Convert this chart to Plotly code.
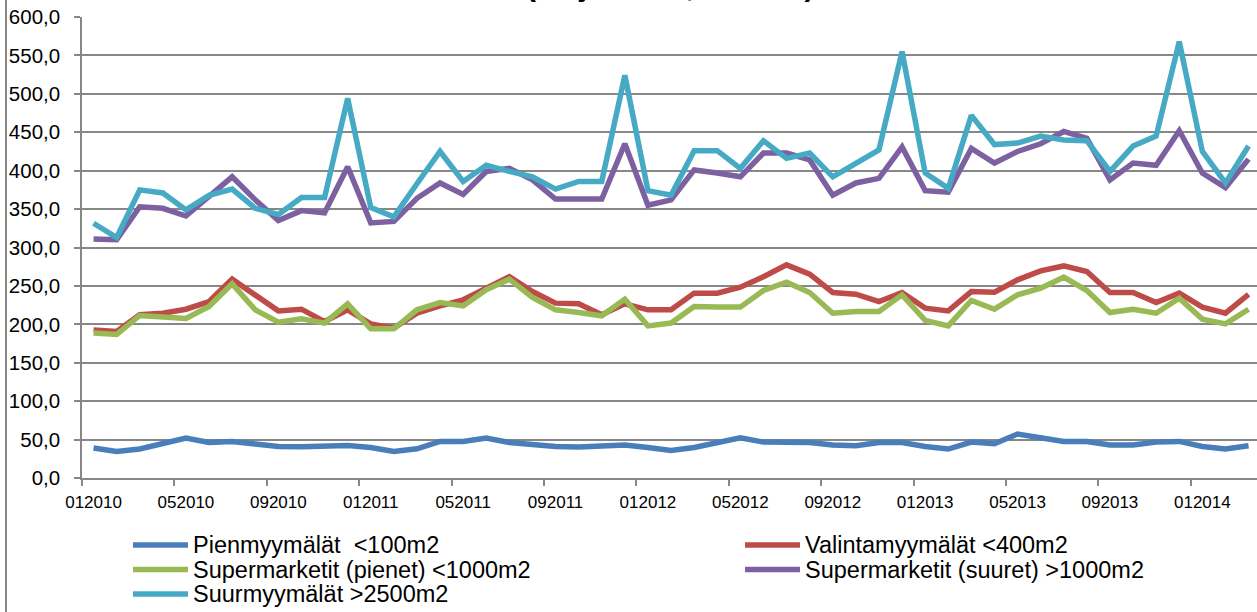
import plotly.graph_objects as go

# ---- data ----
years = [2010, 2011, 2012, 2013, 2014]
months = []
for y in years:
    for m in range(1, 13):
        months.append(f"{m:02d}{y}")
months = months[:51]  # 012010 .. 032014

pien = [39, 34.6, 37.7, 45.5, 52, 46.3, 47.6, 44.2, 41.1, 40.7, 42.4, 42.4, 39.8, 34.6, 38,
        47.6, 47.6, 52, 46.3, 43, 41.1, 40.3, 41.9, 43, 39.8, 35.9, 39.8, 46.3, 52.4, 46.7,
        46.7, 46.3, 43, 41.9, 46.3, 46.3, 41.1, 37.7, 46.7, 44.6, 57.2, 51.6, 47.6, 47.6, 43,
        43, 46.7, 47.6, 41.1, 37.7, 41.9]
valinta = [192.8, 190.7, 212.4, 214.5, 219.7, 229.6, 258.8, 238.4, 217.5, 219.7, 203.6, 218.9,
           200.6, 195, 214.5, 224, 231.9, 247, 262, 242.7, 227.6, 226.7, 212.4, 226.7, 218.9,
           218.9, 240.6, 240.6, 248.4, 262, 277.4, 265.3, 241.4, 239.3, 229.6, 241.4, 221.1,
           217.5, 242.7, 241.8, 257.9, 269.6, 276, 268.7, 241.4, 241.4, 228.4, 240.6, 222.4,
           214.5, 239]
super_pienet = [188.6, 186.8, 211.5, 209.4, 207.6, 223.2, 252.7, 218.9, 202.7, 207.2, 201.6,
                226.7, 194.1, 194.1, 218.9, 228.4, 224, 245, 258.8, 234.9, 218.9, 215.4, 211.1,
                232.8, 198, 201.6, 223.2, 222.4, 222.4, 244, 254.9, 241.4, 214.5, 216.7, 216.7,
                238.4, 205.2, 198, 231, 219.7, 238.4, 247, 261.4, 244, 215.4, 219.7, 214.5, 234,
                206.8, 200.6, 219.7]
super_suuret = [311, 310, 353, 351, 341, 366, 392, 362, 335, 348, 345, 405, 332, 334, 364, 384,
                369, 399, 403, 388, 363, 363, 363, 435, 355, 362, 401, 397, 392, 423, 423, 414,
                368, 384, 390, 431, 374, 372, 429, 410, 425, 435, 451, 442, 388, 410, 407, 452,
                397, 378, 415]
suur = [331.6, 313, 375, 371, 349, 368, 376, 351, 343, 365, 365, 494, 352, 340, 383, 425, 386,
        407, 399, 392, 376, 386, 386, 524, 374, 368, 426, 426, 403, 439, 416, 423, 392, 410, 427,
        555, 397, 377, 472, 434, 436, 445, 440, 439, 399, 432, 445, 568, 425, 384, 432]

names = ["Pienmyymälät  <100m2", "Valintamyymälät <400m2", "Supermarketit (pienet) <1000m2",
         "Supermarketit (suuret) >1000m2", "Suurmyymälät >2500m2"]
series = [pien, valinta, super_pienet, super_suuret, suur]
colors = ["#4A7EBB", "#BE4B48", "#98B954", "#7D60A0", "#46AAC5"]

title_text = "(milj. euroa, alv 0 %)"

# ---- layout geometry (pixels) ----
W, H = 1257, 612
L, R, T, B = 82, 0, 17, 134
PW = W - L - R
PH = H - T - B

def px(x):
    return (x - L) / PW

def py(y):
    return (H - B - y) / PH

FONT = "Liberation Sans, Arial, sans-serif"
GRID = "#878787"

fig = go.Figure()
for name, vals, col in zip(names, series, colors):
    fig.add_trace(go.Scatter(x=months, y=vals, mode="lines", name=name,
                             line=dict(color=col, width=5.5),
                             showlegend=False))

fig.update_layout(
    width=W, height=H,
    margin=dict(l=L, r=R, t=T, b=B, pad=0),
    paper_bgcolor="white", plot_bgcolor="white",
    separators=", ",
    font=dict(family=FONT, color="black"),
    showlegend=False,
)
fig.update_xaxes(
    type="category", range=[-0.5, -0.5 + PW / 23.1], automargin=False,
    dtick=4, tickson="boundaries", ticks="outside", ticklen=6, tickwidth=1.5,
    tickcolor=GRID, showline=True, linecolor=GRID, linewidth=1.5,
    showgrid=False, zeroline=False, tickangle=0,
    tickfont=dict(size=17, family=FONT, color="black"), ticklabelstandoff=8,
)
fig.update_yaxes(
    range=[0, 600], dtick=50, tickformat=".1f", automargin=False,
    showgrid=True, gridcolor=GRID, gridwidth=1.5,
    ticks="outside", ticklen=6, tickwidth=1.5, tickcolor=GRID,
    showline=True, linecolor=GRID, linewidth=1.5, zeroline=False,
    tickfont=dict(size=20.5, family=FONT, color="black"), ticklabelstandoff=10,
)

shapes = []
annotations = []
# chart-area border on the left
shapes.append(dict(type="line", xref="paper", yref="paper", x0=px(6), x1=px(6),
                   y0=py(H), y1=py(0), line=dict(color=GRID, width=2)))

# manual legend
legend_pos = [(133, 545), (745, 545), (133, 569.5), (745, 569.5), (133, 594)]
for (lx, ly), name, col in zip(legend_pos, names, colors):
    shapes.append(dict(type="line", xref="paper", yref="paper",
                       x0=px(lx), x1=px(lx + 55), y0=py(ly), y1=py(ly),
                       line=dict(color=col, width=5.5)))
    annotations.append(dict(xref="paper", yref="paper", x=px(lx + 58), y=py(ly),
                            xanchor="left", yanchor="middle", showarrow=False,
                            text=name, font=dict(size=23.5, family=FONT, color="black")))

annotations.append(dict(xref="paper", yref="paper", x=0.5, y=py(4.2),
                        xanchor="center", yanchor="bottom", showarrow=False,
                        text="<b>" + title_text + "</b>",
                        font=dict(size=30, family=FONT, color="black")))

fig.update_layout(shapes=shapes, annotations=annotations)
fig.write_html("out.html", config={"displayModeBar": False},
               post_script="document.body.style.margin='0px';document.body.style.overflow='hidden';")
